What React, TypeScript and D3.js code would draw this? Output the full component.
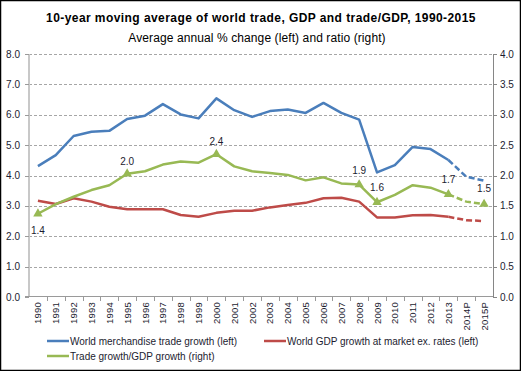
import React, { useEffect, useRef } from "react";
import * as d3 from "d3";

// DATA
const years = [
  "1990", "1991", "1992", "1993", "1994", "1995", "1996", "1997", "1998",
  "1999", "2000", "2001", "2002", "2003", "2004", "2005", "2006", "2007",
  "2008", "2009", "2010", "2011", "2012", "2013", "2014P", "2015P",
];
const tradeGrowth = [
  4.31, 4.67, 5.3, 5.44, 5.47, 5.86, 5.97, 6.35, 6.01, 5.88, 6.54, 6.15, 5.93,
  6.12, 6.17, 6.06, 6.39, 6.06, 5.84, 4.1, 4.34, 4.94, 4.87, 4.51, 3.96, 3.83,
];
const gdpGrowth = [
  3.17, 3.06, 3.25, 3.14, 2.97, 2.89, 2.89, 2.89, 2.7, 2.64, 2.77, 2.84, 2.84,
  2.95, 3.03, 3.1, 3.25, 3.27, 3.14, 2.62, 2.62, 2.69, 2.7, 2.64, 2.53, 2.5,
];
const ratio = [
  1.37, 1.53, 1.65, 1.76, 1.84, 2.03, 2.07, 2.18, 2.23, 2.21, 2.35, 2.15, 2.07,
  2.04, 2.01, 1.92, 1.97, 1.87, 1.85, 1.56, 1.68, 1.84, 1.8, 1.69, 1.57, 1.53,
];
// labelled points on the ratio line: [year, text]
const ratioLabels = [
  ["1990", "1.4"],
  ["1995", "2.0"],
  ["2000", "2.4"],
  ["2008", "1.9"],
  ["2009", "1.6"],
  ["2013", "1.7"],
  ["2015P", "1.5"],
];
const leftTicks = [0, 1, 2, 3, 4, 5, 6, 7, 8];
const rightTicks = [0, 0.5, 1, 1.5, 2, 2.5, 3, 3.5, 4];
const title = "10-year moving average of world trade, GDP and trade/GDP, 1990-2015";
const subtitle = "Average annual % change (left) and ratio (right)";
const legendNames = [
  "World merchandise trade growth (left)",
  "World GDP growth at market ex. rates (left)",
  "Trade growth/GDP growth (right)",
];

const BLUE = "#4a7ebb";
const RED = "#be4b48";
const GREEN = "#98b954";
const FONT = "'Liberation Sans', Arial, sans-serif";

export default function App() {
  const ref = useRef(null);

  useEffect(() => {
    const svg = d3.select(ref.current);
    svg.selectAll("*").remove();

    const W = 521;
    const H = 371;
    const left = 29;
    const right = 493;
    const top = 54;
    const bottom = 297;

    // border
    svg
      .append("rect")
      .attr("x", 0.5)
      .attr("y", 0.5)
      .attr("width", W - 1)
      .attr("height", H - 1)
      .attr("fill", "#fff")
      .attr("stroke", "#000")
      .attr("stroke-width", 1.5);

    // TITLES
    svg
      .append("text")
      .attr("x", 261)
      .attr("y", 22)
      .attr("text-anchor", "middle")
      .style("font", `bold 12px ${FONT}`)
      .style("letter-spacing", "0.43px")
      .attr("fill", "#000")
      .text(title);
    svg
      .append("text")
      .attr("x", 257)
      .attr("y", 42)
      .attr("text-anchor", "middle")
      .style("font", `12px ${FONT}`)
      .style("letter-spacing", "0.1px")
      .attr("fill", "#000")
      .text(subtitle);

    // SCALES
    const x = d3.scaleBand().domain(years).range([left, right]);
    const cx = (d) => x(d) + x.bandwidth() / 2;
    const yL = d3.scaleLinear().domain([0, 8]).range([bottom, top]);
    const yR = d3.scaleLinear().domain([0, 4]).range([bottom, top]);

    // GRID
    svg
      .append("g")
      .selectAll("line")
      .data(leftTicks.slice(1))
      .join("line")
      .attr("x1", left)
      .attr("x2", right)
      .attr("y1", (d) => Math.round(yL(d)) + 0.5)
      .attr("y2", (d) => Math.round(yL(d)) + 0.5)
      .attr("stroke", "#a6a6a6")
      .attr("stroke-dasharray", "3,2");

    // LEFT AXIS
    const gL = svg.append("g");
    gL.append("line")
      .attr("x1", left)
      .attr("x2", left)
      .attr("y1", top)
      .attr("y2", bottom)
      .attr("stroke", "#c8c8c8")
      .attr("stroke-width", 2);
    gL.selectAll("line.tick")
      .data(leftTicks)
      .join("line")
      .attr("class", "tick")
      .attr("x1", left - 4)
      .attr("x2", left)
      .attr("y1", (d) => Math.round(yL(d)) + 0.5)
      .attr("y2", (d) => Math.round(yL(d)) + 0.5)
      .attr("stroke", "#9a9a9a");
    gL.selectAll("text")
      .data(leftTicks)
      .join("text")
      .attr("x", 20)
      .attr("y", (d) => yL(d) + 3.5)
      .attr("text-anchor", "end")
      .style("font", `10px ${FONT}`)
      .attr("fill", "#1c1c30")
      .text((d) => d3.format(".1f")(d));

    // RIGHT AXIS
    const gR = svg.append("g");
    gR.append("line")
      .attr("x1", right + 0.5)
      .attr("x2", right + 0.5)
      .attr("y1", top)
      .attr("y2", bottom)
      .attr("stroke", "#868686");
    gR.selectAll("line.tick")
      .data(rightTicks)
      .join("line")
      .attr("class", "tick")
      .attr("x1", right)
      .attr("x2", right + 4)
      .attr("y1", (d) => Math.round(yR(d)) + 0.5)
      .attr("y2", (d) => Math.round(yR(d)) + 0.5)
      .attr("stroke", "#868686");
    gR.selectAll("text")
      .data(rightTicks)
      .join("text")
      .attr("x", 500)
      .attr("y", (d) => yR(d) + 3.5)
      .style("font", `10px ${FONT}`)
      .attr("fill", "#1c1c30")
      .text((d) => d3.format(".1f")(d));

    // BOTTOM AXIS
    const gB = svg.append("g");
    gB.append("line")
      .attr("x1", left - 4)
      .attr("x2", right)
      .attr("y1", bottom - 0.5)
      .attr("y2", bottom - 0.5)
      .attr("stroke", "#9a9a9a");
    gB.selectAll("line.tick")
      .data(years.slice(1))
      .join("line")
      .attr("class", "tick")
      .attr("x1", (d) => Math.round(x(d)) + 0.5)
      .attr("x2", (d) => Math.round(x(d)) + 0.5)
      .attr("y1", bottom)
      .attr("y2", bottom + 4)
      .attr("stroke", "#9a9a9a");
    gB.selectAll("text")
      .data(years)
      .join("text")
      .attr("transform", (d) => `translate(${cx(d) + 3.5},${bottom + 5}) rotate(-90)`)
      .attr("text-anchor", "end")
      .style("font", `9.5px ${FONT}`)
      .style("letter-spacing", "0.2px")
      .attr("fill", "#1c1c30")
      .text((d) => d);

    // LINES
    const series = [
      { values: tradeGrowth, scale: yL, color: BLUE },
      { values: gdpGrowth, scale: yL, color: RED },
      { values: ratio, scale: yR, color: GREEN },
    ];
    const lastActual = years.indexOf("2013");
    series.forEach((s) => {
      const pts = years.map((yr, i) => [cx(yr), s.scale(s.values[i])]);
      const line = d3.line().curve(d3.curveLinear);
      svg
        .append("path")
        .attr("d", line(pts.slice(0, lastActual + 1)))
        .attr("fill", "none")
        .attr("stroke", s.color)
        .attr("stroke-width", 2.5)
        .attr("stroke-linejoin", "round");
      svg
        .append("path")
        .attr("d", line(pts.slice(lastActual)))
        .attr("fill", "none")
        .attr("stroke", s.color)
        .attr("stroke-width", 2.5)
        .attr("stroke-dasharray", "6,3");
    });

    // MARKERS + LABELS
    const tri = d3.symbol().type(d3.symbolTriangle).size(38);
    const labelOffsets = {
      "1990": [0, 20],
      "1995": [0, -9],
      "2000": [0, -9],
      "2008": [0, -11],
      "2009": [0, -11],
      "2013": [0, -11],
      "2015P": [0, -12],
    };
    ratioLabels.forEach(([yr, txt]) => {
      const v = ratio[years.indexOf(yr)];
      svg
        .append("path")
        .attr("d", tri())
        .attr("transform", `translate(${cx(yr)},${yR(v)})`)
        .attr("fill", GREEN);
      const [dx, dy] = labelOffsets[yr];
      svg
        .append("text")
        .attr("x", cx(yr) + dx)
        .attr("y", yR(v) + dy)
        .attr("text-anchor", "middle")
        .style("font", `10px ${FONT}`)
        .attr("fill", "#1c1c30")
        .text(txt);
    });

    // LEGEND
    const legendPos = [
      [47, 341],
      [264, 341],
      [47, 356],
    ];
    const colors = [BLUE, RED, GREEN];
    legendNames.forEach((name, i) => {
      const [lx, ly] = legendPos[i];
      svg
        .append("line")
        .attr("x1", lx)
        .attr("x2", lx + 22)
        .attr("y1", ly)
        .attr("y2", ly)
        .attr("stroke", colors[i])
        .attr("stroke-width", 2.5);
      svg
        .append("text")
        .attr("x", lx + 23)
        .attr("y", ly + 3.5)
        .style("font", `10px ${FONT}`)
        .attr("fill", "#1c1c30")
        .text(name);
    });
  }, []);

  return (
    <div style={{ position: "absolute", left: 0, top: 0 }}>
      <svg ref={ref} width={521} height={371} style={{ display: "block" }} />
    </div>
  );
}
